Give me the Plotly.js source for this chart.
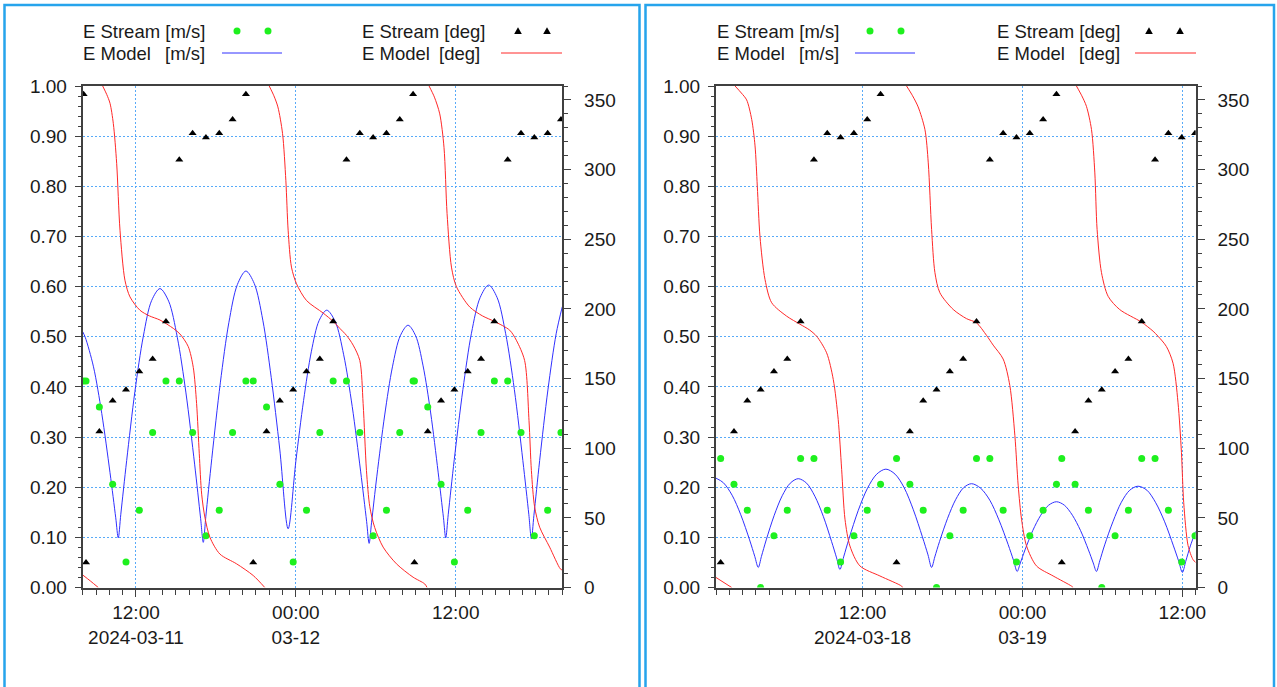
<!DOCTYPE html>
<html>
<head>
<meta charset="utf-8">
<script src="https://cdn.plot.ly/plotly-3.0.1.min.js"></script>
<style>html,body{margin:0;padding:0;background:#fff;}#chart{width:1277px;height:687px;}</style>
</head>
<body>
<div id="chart"></div>
<script>
// ---------------- DATA (hours after panel start) ----------------
const leftStart = '2024-03-11T08:00:00';
const leftEnd = '2024-03-12T20:00:00';
const rightStart = '2024-03-18T01:00:00';
const rightEnd = '2024-03-19T13:00:00';

const leftTickVals = ['2024-03-11 12:00', '2024-03-12 00:00', '2024-03-12 12:00'];
const leftTickText = ['12:00<br>2024-03-11', '00:00<br>03-12', '12:00'];
const rightTickVals = ['2024-03-18 12:00', '2024-03-19 00:00', '2024-03-19 12:00'];
const rightTickText = ['12:00<br>2024-03-18', '00:00<br>03-19', '12:00'];

const speedTickVals = [0, 0.1, 0.2, 0.3, 0.4, 0.5, 0.6, 0.7, 0.8, 0.9, 1.0];
const dirTickVals = [0, 50, 100, 150, 200, 250, 300, 350];

// Left panel: stream observations
const leftStreamHours = [0.07,0.25,1.25,2.25,3.25,4.25,5.25,6.25,7.25,8.25,9.25,10.25,11.25,12.25,12.8,13.8,14.8,15.8,16.8,17.8,18.8,19.8,20.8,21.8,22.8,23.8,24.8,24.9,25.9,26.9,27.9,28.9,29.9,30.9,31.9,32.9,33.9,34.9,35.9];
const leftStreamSpeed = [0.412,0.412,0.360,0.206,0.051,0.154,0.309,0.412,0.412,0.309,0.103,0.154,0.309,0.412,0.412,0.360,0.206,0.051,0.154,0.309,0.412,0.412,0.309,0.103,0.154,0.309,0.412,0.412,0.360,0.206,0.051,0.154,0.309,0.412,0.412,0.309,0.103,0.154,0.309];
const leftStreamDir = [354,18,112,134,142,155,164,191,307,326,323,326,336,354,18,112,134,142,155,164,191,307,326,323,326,336,354,18,112,134,142,155,164,191,307,326,323,326,336];

// Left panel: model speed
const leftModelSpeedHours = [0,0.19,0.81,1.43,2.05,2.48,2.67,2.86,3.30,3.92,4.55,5.17,5.80,6.45,7.10,7.75,8.40,8.85,9.05,9.24,9.69,10.33,10.97,11.61,12.25,12.88,13.52,14.15,14.79,15.42,16.00,16.58,17.16,17.74,18.32,18.96,19.59,20.23,20.86,21.31,21.50,21.68,22.08,22.67,23.25,23.84,24.42,24.99,25.55,26.12,26.68,27.08,27.25,27.44,27.89,28.54,29.18,29.83,30.47,31.11,31.75,32.40,33.04,33.49,33.68,33.87,34.30,34.92,35.54,36.00];
const leftModelSpeed = [0.510,0.499,0.440,0.347,0.229,0.139,0.099,0.146,0.253,0.391,0.501,0.572,0.596,0.571,0.499,0.388,0.246,0.138,0.090,0.141,0.257,0.408,0.528,0.604,0.631,0.606,0.533,0.419,0.276,0.117,0.252,0.373,0.470,0.532,0.553,0.530,0.464,0.361,0.232,0.132,0.088,0.129,0.222,0.344,0.440,0.502,0.523,0.502,0.442,0.348,0.230,0.139,0.099,0.146,0.255,0.395,0.507,0.578,0.603,0.578,0.506,0.395,0.253,0.145,0.097,0.144,0.253,0.394,0.506,0.560];

// Left panel: model direction (null = wrap break)
const leftModelDirHours = [0,0.6,1.17,null,1.5,1.8,2.05,2.3,2.55,2.8,3.17,3.55,4.3,5.0,5.8,6.8,7.3,7.92,8.3,8.55,8.75,8.93,9.17,9.55,10.3,11.55,12.8,13.67,null,14.0,14.35,14.65,15.0,15.25,15.42,15.67,16.05,16.8,18.05,18.8,19.3,19.8,20.3,20.8,21.05,21.3,21.55,21.92,22.55,23.55,24.8,25.67,25.85,null,26.0,26.4,26.8,27.12,27.35,27.68,28.05,29.05,30.0,30.9,32.05,32.55,33.17,33.5,33.68,33.92,34.3,35.05,35.85,36.0];
const leftModelDir = [9,4.5,0,null,360,354,347.6,333,304.5,256.5,220.6,208.6,199,195,192,186,182,173,158,132,96,67,50.5,36,24,17,8.6,0,null,360,353,345,326,292,256.5,230,218,206,197,191,186,181,174,163,132,84,58,43,29,17,7.4,2.6,0,null,360,352,340,316,268.5,230,216,201.4,195,191,184.7,177.5,163,120,84,58,43.3,29,13.4,12.5];

// Right panel: stream observations
const rightStreamHours = [0.35,1.35,2.35,3.35,4.35,5.35,6.35,7.35,8.35,9.35,10.35,11.35,12.35,13.55,14.55,15.55,16.55,17.55,18.55,19.55,20.55,21.55,22.55,23.55,24.55,25.55,25.95,26.95,27.95,28.95,29.95,30.95,31.95,32.95,33.95,34.95,35.95];
const rightStreamSpeed = [0.257,0.206,0.154,0.000,0.103,0.154,0.257,0.257,0.154,0.051,0.103,0.154,0.206,0.257,0.206,0.154,0.000,0.103,0.154,0.257,0.257,0.154,0.051,0.103,0.154,0.206,0.257,0.206,0.154,0.000,0.103,0.154,0.257,0.257,0.154,0.051,0.103];
const rightStreamDir = [18,112,134,142,155,164,191,307,326,323,326,336,354,18,112,134,142,155,164,191,307,326,323,326,336,354,18,112,134,142,155,164,191,307,326,323,326];

// Right panel: model speed
const rightModelSpeedHours = [0,0.55,1.21,1.86,2.52,2.91,3.17,3.41,3.77,4.37,4.97,5.57,6.17,6.80,7.42,8.05,8.67,9.05,9.30,9.58,9.99,10.68,11.37,12.06,12.75,13.44,14.12,14.81,15.49,15.91,16.18,16.42,16.78,17.38,17.98,18.58,19.18,19.86,20.55,21.23,21.92,22.33,22.60,22.84,23.19,23.78,24.37,24.96,25.55,26.15,26.75,27.35,27.95,28.31,28.55,28.80,29.17,29.80,30.42,31.05,31.67,32.34,33.00,33.67,34.33,34.73,35.00,35.25,35.60,36.00];
const rightModelSpeed = [0.218,0.209,0.184,0.145,0.095,0.062,0.040,0.062,0.095,0.144,0.183,0.208,0.217,0.208,0.182,0.142,0.092,0.059,0.036,0.061,0.098,0.154,0.198,0.226,0.236,0.226,0.199,0.155,0.101,0.065,0.040,0.061,0.092,0.138,0.175,0.199,0.207,0.198,0.174,0.135,0.086,0.054,0.032,0.049,0.075,0.114,0.144,0.164,0.171,0.164,0.144,0.114,0.075,0.049,0.032,0.053,0.085,0.132,0.170,0.194,0.202,0.194,0.169,0.131,0.083,0.052,0.030,0.052,0.083,0.112];

// Right panel: model direction
const rightModelDirHours = [0,0.6,1.18,null,1.43,1.9,2.3,2.68,2.93,3.1,3.3,3.68,4.18,5.3,6.3,7.0,7.55,8.3,8.8,9.17,9.43,9.68,10.05,10.8,12.3,13.93,14.0,null,14.3,14.75,15.17,15.68,15.93,16.18,16.43,16.8,17.8,18.8,19.55,20.3,20.8,21.55,22.05,22.43,22.68,22.93,23.3,24.05,25.3,26.68,26.8,null,27.05,27.45,27.8,28.18,28.43,28.6,28.93,29.43,30.3,31.93,32.8,33.17,33.8,34.3,34.67,34.93,35.1,35.43,35.8,36.0];
const rightModelDir = [7.2,3.5,0,null,360,355,350,336,317,288,252,221,204.4,194.8,189,185,180.4,168.5,149.4,120.7,84.8,49,29.8,15.5,8.3,1,0,null,360,353,345,328.7,304.8,257,226,211.6,199.6,193,190,181,174,164,145,109,73,49,30,15.5,8.3,1,0,null,360,353,345.4,328.7,297.6,257,226,209,199.5,190.5,184,180.4,173,161,133,97,61,30,20,18];

const seriesNames = ['E Stream [m/s]', 'E Model', '[m/s]', 'E Stream [deg]', 'E Model', '[deg]'];

// ---------------- STYLE ----------------
const W = 1277, H = 687;
const FONT = 'Liberation Sans, Arial, Helvetica, sans-serif';
const C_GREEN = '#1ef01e', C_BLUE = '#3030ff', C_RED = '#ff2828', C_BLACK = '#000000';
const C_AXIS = '#404040', C_GRID = '#58aaf8', C_FRAME = '#26a4ec';

function toTime(base, h) {
  if (h === null) return null;
  const ms = Date.parse(base + 'Z') + Math.round(h * 3600000);
  return new Date(ms).toISOString().slice(0, 19).replace('T', ' ');
}
const px = x => x / W;
const py = y => 1 - y / H;

function panelTraces(base, xa, ya, ya2, sH, sS, sD, mSH, mS, mDH, mD) {
  return [
    {x: mSH.map(h => toTime(base, h)), y: mS, xaxis: xa, yaxis: ya, type: 'scatter', mode: 'lines',
     line: {color: C_BLUE, width: 1, shape: 'spline', smoothing: 0.9}, hoverinfo: 'skip'},
    {x: sH.map(h => toTime(base, h)), y: sS, xaxis: xa, yaxis: ya, type: 'scatter', mode: 'markers',
     marker: {color: C_GREEN, size: 7, symbol: 'circle', line: {width: 0}}, hoverinfo: 'skip'},
    {x: mDH.map(h => toTime(base, h)), y: mD, xaxis: xa, yaxis: ya2, type: 'scatter', mode: 'lines',
     connectgaps: false, line: {color: C_RED, width: 1, shape: 'spline', smoothing: 0.8}, hoverinfo: 'skip'},
    {x: sH.map(h => toTime(base, h)), y: sD, xaxis: xa, yaxis: ya2, type: 'scatter', mode: 'markers',
     marker: {color: C_BLACK, size: 7, symbol: 'triangle-up', line: {width: 0}}, hoverinfo: 'skip'}
  ];
}

const traces = [].concat(
  panelTraces(leftStart, 'x', 'y', 'y2', leftStreamHours, leftStreamSpeed, leftStreamDir,
              leftModelSpeedHours, leftModelSpeed, leftModelDirHours, leftModelDir),
  panelTraces(rightStart, 'x2', 'y3', 'y4', rightStreamHours, rightStreamSpeed, rightStreamDir,
              rightModelSpeedHours, rightModelSpeed, rightModelDirHours, rightModelDir)
);

const yDom = [(H - 587.5) / H, (H - 86) / H];
const tickFont = {family: FONT, size: 19, color: '#1a1a1a'};

function xAxis(dom, range, tv, tt, anchor, t0) {
  return {domain: dom, range: range, type: 'date', anchor: anchor,
    tickmode: 'array', tickvals: tv, ticktext: tt, ticks: 'outside', ticklen: 7, tickwidth: 1, tickcolor: C_AXIS,
    showline: true, linecolor: C_AXIS, linewidth: 2, mirror: true,
    showgrid: true, gridcolor: C_GRID, gridwidth: 1, griddash: '2px,2px', zeroline: false,
    minor: {tickmode: 'linear', tick0: t0, dtick: 3600000, ticks: 'outside', ticklen: 5, tickwidth: 1, tickcolor: C_AXIS, showgrid: false},
    tickfont: tickFont, ticklabelstandoff: 0, fixedrange: true};
}
function ySpeed(anchor) {
  return {domain: yDom, range: [0, 1], anchor: anchor, tickmode: 'array', tickvals: speedTickVals, tickformat: '.2f',
    ticks: 'outside', ticklen: 6, tickwidth: 1, tickcolor: C_AXIS,
    showline: true, linecolor: C_AXIS, linewidth: 2, mirror: false,
    showgrid: true, gridcolor: C_GRID, gridwidth: 1, griddash: '2px,2px', zeroline: false,
    minor: {tickmode: 'linear', tick0: 0, dtick: 0.02, ticks: 'outside', ticklen: 3, tickwidth: 1, tickcolor: C_AXIS, showgrid: false},
    tickfont: tickFont, ticklabelstandoff: 4, fixedrange: true};
}
function yDir(over, anchor) {
  return {overlaying: over, side: 'right', anchor: anchor, range: [0, 360], tickmode: 'array', tickvals: dirTickVals,
    ticks: 'outside', ticklen: 7, tickwidth: 1, tickcolor: C_AXIS,
    showline: true, linecolor: C_AXIS, linewidth: 2, showgrid: false, zeroline: false,
    minor: {tickmode: 'linear', tick0: 0, dtick: 10, ticks: 'outside', ticklen: 4, tickwidth: 1, tickcolor: C_AXIS, showgrid: false},
    tickfont: tickFont, ticklabelstandoff: 9, fixedrange: true};
}

// ---------------- LEGEND (text + sample marks) ----------------
const annotations = [];
const shapes = [];
function txt(x, y, s) {
  annotations.push({xref: 'paper', yref: 'paper', x: px(x), y: py(y), text: s, showarrow: false,
    xanchor: 'left', yanchor: 'middle', font: {family: FONT, size: 18.5, color: '#1a1a1a'}});
}
function dot(x, y) {
  shapes.push({type: 'circle', xref: 'paper', yref: 'paper', x0: px(x - 3.5), x1: px(x + 3.5), y0: py(y + 3.5), y1: py(y - 3.5),
    fillcolor: C_GREEN, line: {width: 0}});
}
function tri(x, y) {
  shapes.push({type: 'path', xref: 'paper', yref: 'paper',
    path: `M ${px(x - 3.8)} ${py(y + 3)} L ${px(x + 3.8)} ${py(y + 3)} L ${px(x)} ${py(y - 3.8)} Z`,
    fillcolor: C_BLACK, line: {width: 0}});
}
function seg(x0, x1, y, c) {
  shapes.push({type: 'line', xref: 'paper', yref: 'paper', x0: px(x0), x1: px(x1), y0: py(y), y1: py(y), line: {color: c, width: 1}});
}
function legendBlock(xa, xUnit, xDots, xLine, xb, xbUnit, xTri, xRed) {
  txt(xa, 31, seriesNames[0]);
  txt(xa, 53, seriesNames[1]); txt(xUnit, 53, seriesNames[2]);
  dot(xDots[0], 31); dot(xDots[1], 31);
  seg(xLine[0], xLine[1], 53, C_BLUE);
  txt(xb, 31, seriesNames[3]);
  txt(xb, 53, seriesNames[4]); txt(xbUnit, 53, seriesNames[5]);
  tri(xTri[0], 31); tri(xTri[1], 31);
  seg(xRed[0], xRed[1], 53, C_RED);
}
legendBlock(81, 163, [237, 268], [222, 282], 360, 437, [518, 547], [501, 562]);
legendBlock(715, 797, [870, 901], [855, 915], 995, 1077, [1149, 1180], [1135, 1196]);

// panel frames
shapes.push({type: 'rect', xref: 'paper', yref: 'paper', x0: px(4.5), x1: px(639.5), y0: py(695), y1: py(5),
  line: {color: C_FRAME, width: 2.5}, fillcolor: 'rgba(0,0,0,0)', layer: 'above'});
shapes.push({type: 'rect', xref: 'paper', yref: 'paper', x0: px(645.5), x1: px(1274), y0: py(695), y1: py(5),
  line: {color: C_FRAME, width: 2.5}, fillcolor: 'rgba(0,0,0,0)', layer: 'above'});

const layout = {
  width: W, height: H, autosize: false,
  margin: {l: 0, r: 0, t: 0, b: 0, pad: 0},
  paper_bgcolor: '#ffffff', plot_bgcolor: '#ffffff',
  showlegend: false,
  font: {family: FONT, size: 19, color: '#1a1a1a'},
  xaxis: xAxis([px(82.7), px(562.3)], [leftStart.replace('T', ' '), leftEnd.replace('T', ' ')], leftTickVals, leftTickText, 'y', '2024-03-11 00:00'),
  yaxis: ySpeed('x'),
  yaxis2: yDir('y', 'x'),
  xaxis2: xAxis([px(716), px(1195.7)], [rightStart.replace('T', ' '), rightEnd.replace('T', ' ')], rightTickVals, rightTickText, 'y3', '2024-03-18 00:00'),
  yaxis3: ySpeed('x2'),
  yaxis4: yDir('y3', 'x2'),
  annotations: annotations,
  shapes: shapes
};

Plotly.newPlot('chart', traces, layout, {staticPlot: true, displayModeBar: false});
</script>
</body>
</html>
